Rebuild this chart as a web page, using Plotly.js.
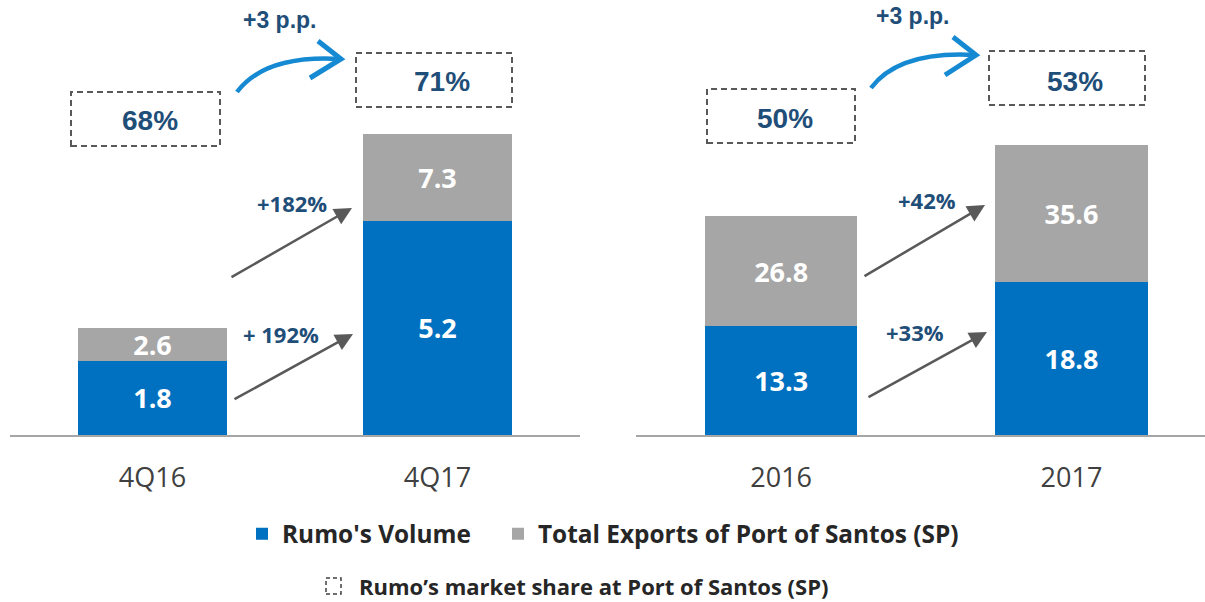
<!DOCTYPE html>
<html>
<head>
<meta charset="utf-8">
<script src="https://cdn.plot.ly/plotly-3.0.1.min.js"></script>
<style>html,body{margin:0;padding:0;background:#fff;}#chart{width:1205px;height:602px;}</style>
</head>
<body>
<div id="chart"></div>
<script>
// ---- data ----
var quarterCats = ['4Q16', '4Q17'];
var quarterRumo = [1.8, 5.2];
var quarterTotal = [2.6, 7.3];
var yearCats = ['2016', '2017'];
var yearRumo = [13.3, 18.8];
var yearTotal = [26.8, 35.6];
var quarterShare = ['68%', '71%'];
var yearShare = ['50%', '53%'];
var shareChange = ['+3 p.p.', '+3 p.p.'];
var quarterGrowth = ['+182%', '+ 192%'];  // total exports, Rumo volume
var yearGrowth = ['+42%', '+33%'];
var seriesNames = ["Rumo's Volume", 'Total Exports of Port of Santos (SP)'];
var shareLegend = 'Rumo\u2019s market share at Port of Santos (SP)';

// ---- style ----
var W = 1205, H = 602, BASE = 435;
var BLUE = '#0070C0', GRAY = '#A6A6A6', NAVY = '#1F4E79', ARROW = '#595959', CURVE = '#1589D2';
function px(x) { return x / W; }
function py(y) { return (BASE - y) / BASE; }
function diff(a, b) { return a.map(function (v, i) { return +(v - b[i]).toFixed(2); }); }
function fmt(a) { return a.map(function (v) { return v.toFixed(1); }); }

var valFont = {family: 'Open Sans', size: 27, color: '#FFFFFF', weight: 700};

function bars(cats, rumo, total, xa, ya, show) {
  return [
    {type: 'bar', x: cats, y: rumo, name: seriesNames[0], xaxis: xa, yaxis: ya,
     marker: {color: BLUE}, width: 0.525, text: fmt(rumo), textposition: 'inside',
     insidetextanchor: 'middle', textfont: valFont, constraintext: 'none',
     legend: 'legend', legendgroup: 'r', showlegend: show, hoverinfo: 'skip'},
    {type: 'bar', x: cats, y: diff(total, rumo), name: seriesNames[1], xaxis: xa, yaxis: ya,
     marker: {color: GRAY}, width: 0.525, text: fmt(total), textposition: 'inside',
     insidetextanchor: 'middle', textfont: valFont, constraintext: 'none',
     legend: 'legend2', legendgroup: 't', showlegend: show, hoverinfo: 'skip'}
  ];
}

var data = bars(quarterCats, quarterRumo, quarterTotal, 'x', 'y', true)
  .concat(bars(yearCats, yearRumo, yearTotal, 'x2', 'y2', false));

var xCommon = {type: 'category', showline: true, linecolor: '#A6A6A6', linewidth: 2,
  showgrid: false, zeroline: false, ticks: '', ticklabelstandoff: 18,
  tickfont: {family: 'Open Sans', size: 27, color: '#404040'}, fixedrange: true};

var shapes = [], annotations = [];

// dashed market-share boxes [x0,x1,y0,y1] and label centres
var boxes = [[71, 220, 92, 146], [356, 512, 53, 107], [707, 855, 89, 143], [989, 1145, 51, 105]];
var boxText = [[150, 120], [442, 82], [785, 118], [1075, 82]];
var shareAll = quarterShare.concat(yearShare);
boxes.forEach(function (b, i) {
  shapes.push({type: 'rect', xref: 'paper', yref: 'paper', x0: px(b[0]), x1: px(b[1]),
    y0: py(b[3]), y1: py(b[2]), line: {color: '#595959', width: 2, dash: '6px,4px'}});
  annotations.push({xref: 'paper', yref: 'paper', x: px(boxText[i][0]), y: py(boxText[i][1]),
    text: shareAll[i], showarrow: false, xanchor: 'center', yanchor: 'middle',
    font: {family: 'Liberation Sans', size: 28, color: NAVY, weight: 700}});
});

// curved blue arrows: start, control, tip, arm1, arm2
var curves = [
  [[237, 92], [265, 55], [339, 59], [318, 41], [310, 78]],
  [[871, 88], [899, 51], [974, 55], [953, 37], [945, 75]]
];
var ppPos = [[280, 20], [913, 16]];
curves.forEach(function (c, i) {
  shapes.push({type: 'path', xref: 'paper', yref: 'paper',
    path: 'M' + px(c[0][0]) + ',' + py(c[0][1]) + ' Q' + px(c[1][0]) + ',' + py(c[1][1]) +
      ' ' + px(c[2][0]) + ',' + py(c[2][1]),
    line: {color: CURVE, width: 4.5}});
  shapes.push({type: 'path', xref: 'paper', yref: 'paper',
    path: 'M' + px(c[3][0]) + ',' + py(c[3][1]) + ' L' + px(c[2][0] + 2) + ',' + py(c[2][1]) +
      ' L' + px(c[4][0]) + ',' + py(c[4][1]),
    line: {color: CURVE, width: 5}});
  annotations.push({xref: 'paper', yref: 'paper', x: px(ppPos[i][0]), y: py(ppPos[i][1]),
    text: shareChange[i], showarrow: false, xanchor: 'center', yanchor: 'middle',
    font: {family: 'Liberation Sans', size: 23, color: NAVY, weight: 700}});
});

// growth arrows [tail, tip] and labels
var gArrows = [[[230, 278], [352, 208]], [[233, 400], [353, 334]],
               [[863, 277], [985, 205]], [[867, 398], [987, 332]]];
var gLabels = quarterGrowth.concat(yearGrowth);
var gPos = [[292, 203], [281, 334], [927, 200], [915, 332]];
gArrows.forEach(function (a, i) {
  annotations.push({xref: 'paper', yref: 'paper', x: px(a[1][0]), y: py(a[1][1]),
    ax: a[0][0] - a[1][0], ay: a[0][1] - a[1][1], text: '', showarrow: true,
    arrowhead: 2, arrowsize: 1.4, arrowwidth: 2.5, arrowcolor: ARROW, standoff: 0});
  annotations.push({xref: 'paper', yref: 'paper', x: px(gPos[i][0]), y: py(gPos[i][1]),
    text: gLabels[i], showarrow: false, xanchor: 'center', yanchor: 'middle',
    font: {family: 'Open Sans', size: 22, color: NAVY, weight: 700}});
});

// third legend item (dashed square)
shapes.push({type: 'rect', xref: 'paper', yref: 'paper', x0: px(326), x1: px(341),
  y0: py(594), y1: py(578), line: {color: '#404040', width: 1.5, dash: '4px,3px'}});
annotations.push({xref: 'paper', yref: 'paper', x: px(357), y: py(586), text: shareLegend,
  showarrow: false, xanchor: 'left', yanchor: 'middle',
  font: {family: 'Open Sans', size: 22, color: '#262626', weight: 700}});

var legendBase = {orientation: 'h', xanchor: 'left', y: py(534), yanchor: 'middle',
  font: {family: 'Open Sans', size: 24.4, color: '#262626', weight: 700},
  bgcolor: 'rgba(0,0,0,0)', itemclick: false, itemdoubleclick: false};

var layout = {
  width: W, height: H, margin: {l: 0, r: 0, t: 0, b: H - BASE, pad: 0},
  paper_bgcolor: '#FFFFFF', plot_bgcolor: '#FFFFFF', barmode: 'stack',
  xaxis: Object.assign({}, xCommon, {domain: [px(10), px(580)], range: [-0.5, 1.5], anchor: 'y'}),
  xaxis2: Object.assign({}, xCommon, {domain: [px(636), 1], range: [-0.5, 1.46], anchor: 'y2'}),
  yaxis: {domain: [0, 1], range: [0, BASE / 41.2], visible: false, fixedrange: true, anchor: 'x'},
  yaxis2: {domain: [0, 1], range: [0, BASE / 8.16], visible: false, fixedrange: true, anchor: 'x2'},
  showlegend: true,
  legend: Object.assign({}, legendBase, {x: px(242)}),
  legend2: Object.assign({}, legendBase, {x: px(498)}),
  shapes: shapes, annotations: annotations
};

Plotly.newPlot('chart', data, layout, {displayModeBar: false, staticPlot: true});
</script>
</body>
</html>
